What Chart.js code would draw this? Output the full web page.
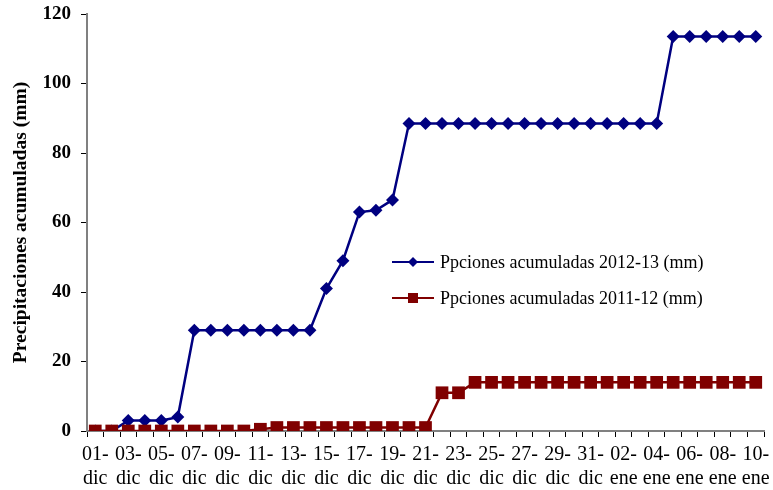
<!DOCTYPE html>
<html>
<head>
<meta charset="utf-8">
<script src="https://cdn.jsdelivr.net/npm/chart.js@4.4.1/dist/chart.umd.min.js"></script>
<style>
  html, body { margin: 0; padding: 0; background: #fff; }
  #wrap { width: 773px; height: 490px; }
</style>
</head>
<body>
<div id="wrap"><canvas id="c"></canvas></div>
<script>
// fechas 01-dic .. 10-ene
const days = [
  "01-dic","02-dic","03-dic","04-dic","05-dic","06-dic","07-dic","08-dic","09-dic","10-dic",
  "11-dic","12-dic","13-dic","14-dic","15-dic","16-dic","17-dic","18-dic","19-dic","20-dic",
  "21-dic","22-dic","23-dic","24-dic","25-dic","26-dic","27-dic","28-dic","29-dic","30-dic",
  "31-dic","01-ene","02-ene","03-ene","04-ene","05-ene","06-ene","07-ene","08-ene","09-ene","10-ene"
];
const ppt2012 = [
  0, 0, 3, 3, 3, 4, 29, 29, 29, 29,
  29, 29, 29, 29, 41, 49, 63, 63.5, 66.5, 88.5,
  88.5, 88.5, 88.5, 88.5, 88.5, 88.5, 88.5, 88.5, 88.5, 88.5,
  88.5, 88.5, 88.5, 88.5, 88.5, 113.5, 113.5, 113.5, 113.5, 113.5, 113.5
];
const ppt2011 = [
  0, 0, 0, 0, 0, 0, 0, 0, 0, 0,
  0.5, 1, 1, 1, 1, 1, 1, 1, 1, 1,
  1, 11, 11, 14, 14, 14, 14, 14, 14, 14,
  14, 14, 14, 14, 14, 14, 14, 14, 14, 14, 14
];
const yTicks = [0, 20, 40, 60, 80, 100, 120];
const serie1 = "Ppciones acumuladas 2012-13 (mm)";
const serie2 = "Ppciones acumuladas 2011-12 (mm)";

const blue = "#000080", red = "#800000";
const serif = "'Liberation Serif', 'Times New Roman', serif";

// leyenda dentro del area del grafico
const legendPlugin = {
  id: "insideLegend",
  afterDraw(chart) {
    const ctx = chart.ctx;
    const items = [
      { text: serie1, color: blue, y: 262, shape: "diamond" },
      { text: serie2, color: red, y: 298, shape: "square" }
    ];
    ctx.save();
    items.forEach(it => {
      ctx.strokeStyle = it.color;
      ctx.lineWidth = 2;
      ctx.beginPath();
      ctx.moveTo(392, it.y);
      ctx.lineTo(434, it.y);
      ctx.stroke();
      ctx.fillStyle = it.color;
      ctx.beginPath();
      if (it.shape === "diamond") {
        ctx.moveTo(413, it.y - 5); ctx.lineTo(418, it.y);
        ctx.lineTo(413, it.y + 5); ctx.lineTo(408, it.y);
      } else {
        ctx.rect(408, it.y - 5, 10, 10);
      }
      ctx.closePath();
      ctx.fill();
      ctx.fillStyle = "#000";
      ctx.font = "18px " + serif;
      ctx.textBaseline = "middle";
      ctx.textAlign = "left";
      ctx.fillText(it.text, 440, it.y + 1);
    });
    ctx.restore();
  }
};

new Chart(document.getElementById("c"), {
  type: "line",
  data: {
    labels: days,
    datasets: [
      {
        label: serie1,
        data: ppt2012,
        borderColor: blue,
        backgroundColor: blue,
        borderWidth: 2.5,
        pointStyle: "rectRot",
        pointRadius: 6.5,
        pointBorderWidth: 0,
        tension: 0,
        order: 1
      },
      {
        label: serie2,
        data: ppt2011,
        borderColor: red,
        backgroundColor: red,
        borderWidth: 2.5,
        pointStyle: "rect",
        pointRadius: 9,
        pointBorderWidth: 0,
        tension: 0,
        order: 0
      }
    ]
  },
  options: {
    responsive: true,
    maintainAspectRatio: false,
    animation: false,
    devicePixelRatio: 1,
    layout: { padding: { top: 14, right: 8, left: 0, bottom: 0 } },
    plugins: {
      legend: { display: false },
      tooltip: { enabled: false }
    },
    scales: {
      x: {
        type: "category",
        offset: true,
        afterFit: s => { s.height = 59; s.paddingLeft = 0; s.paddingRight = 0; },
        grid: {
          offset: true,
          drawOnChartArea: false,
          drawTicks: true,
          tickLength: 6,
          color: "#000"
        },
        border: { color: "#808080", width: 2 },
        ticks: {
          autoSkip: false,
          maxRotation: 0,
          minRotation: 0,
          padding: 6,
          color: "#000",
          font: { family: serif, size: 20, lineHeight: 1.2 },
          callback: function (v, i) {
            if (i % 2) return "";
            const p = days[i].split("-");
            return [p[0] + "-", p[1]];
          }
        }
      },
      y: {
        min: 0,
        max: 120,
        afterFit: s => { s.width = 87; s.paddingTop = 0; s.paddingBottom = 0; },
        afterBuildTicks: s => { s.ticks = yTicks.map(v => ({ value: v })); },
        grid: {
          drawOnChartArea: false,
          drawTicks: true,
          tickLength: 6,
          color: "#000"
        },
        border: { color: "#808080", width: 2 },
        ticks: {
          padding: 10,
          color: "#000",
          font: { family: serif, size: 19, weight: "bold" }
        },
        title: {
          display: true,
          text: "Precipitaciones acumuladas (mm)",
          color: "#000",
          font: { family: serif, size: 19.5, weight: "bold" },
          padding: { top: 9, bottom: 0 }
        }
      }
    }
  },
  plugins: [legendPlugin]
});
</script>
</body>
</html>
